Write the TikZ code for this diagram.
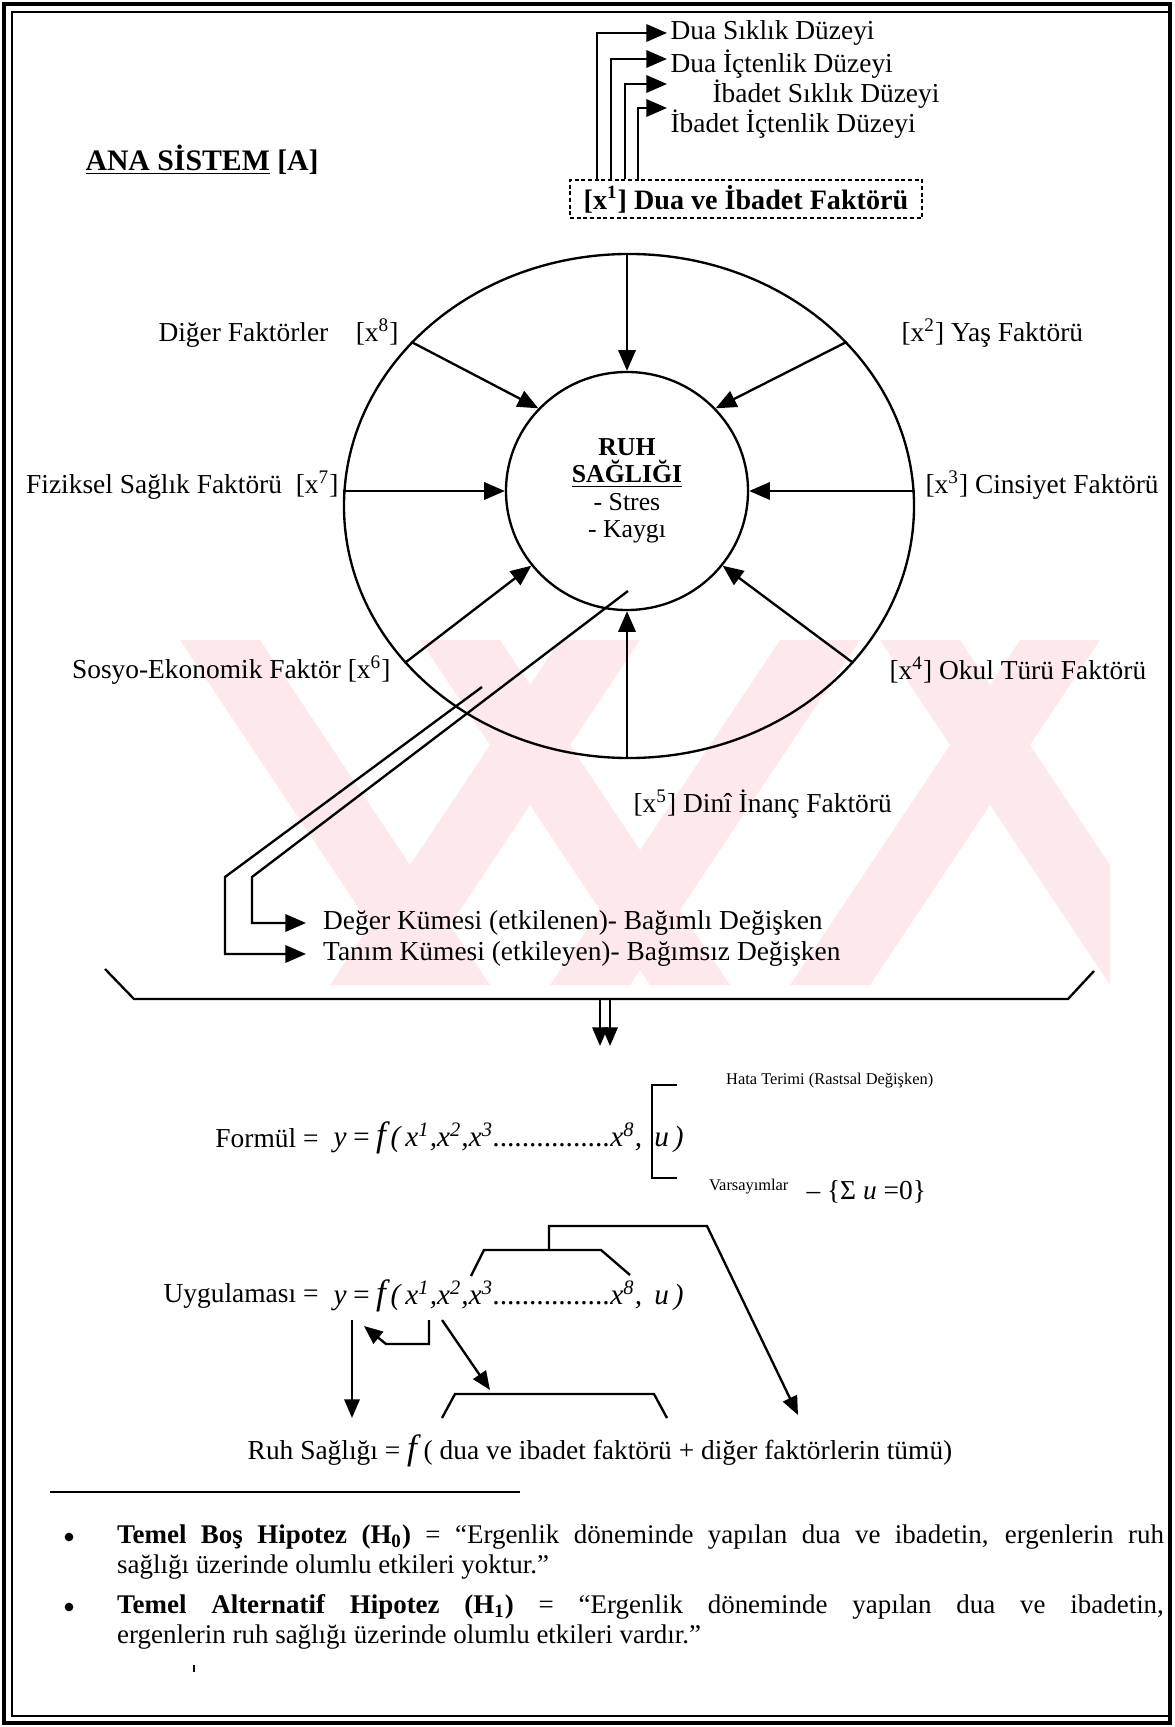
\documentclass[tikz,border=0pt]{standalone}
\usepackage{fontspec}
\setmainfont{Liberation Serif}
\usepackage{tikz}
\usetikzlibrary{
  arrows.meta,
  calc,
  positioning,
  shapes.geometric
}
\definecolor{yokpembe}{RGB}{253,233,236}
\tikzset{>={Triangle[length=3.1mm,width=2.6mm]}}
\tikzset{
  lbl/.style={inner sep=1pt,font=\fontsize{11.7}{14}\selectfont},
  minik/.style={inner sep=0pt,font=\fontsize{7}{8}\selectfont},
  kucukok/.style={>={Triangle[length=2.8mm,width=2.3mm]}},
  filigran/.style={fill=yokpembe,draw=none},
  madde/.style={circle,fill,inner sep=0pt,minimum size=1.3mm},
  hipotez/.style={inner sep=0pt,text width=157mm,align=justify,font=\fontsize{11.5}{13.1}\selectfont}
}
\newcommand{\yfonk}{{\fontsize{12.5}{15}\selectfont\itshape y\,=\,{\fontsize{15}{15}\selectfont f}\,(\,x\textsuperscript{1},x\textsuperscript{2},x\textsuperscript{3}................x\textsuperscript{8}, \,u\,)}}

\begin{document}
\begin{tikzpicture}[x=0.15mm,y=-0.15mm,line width=1pt]
	\useasboundingbox (0,0) rectangle (1174,1727);
	\begin{scope}
		\clip (180,640) rectangle (1110,985);
		\foreach \a in {180,420,880}
			\fill[filigran] (\a,640) -- ++(80,0) -- ++(230,345) -- ++(-80,0) -- cycle;
		\foreach \a in {560,780,1020}
			\fill[filigran] (\a,640) -- ++(80,0) -- ++(-230,345) -- ++(-80,0) -- cycle;
	\end{scope}
	\draw[line width=1.8pt] (4,4) rectangle (1170,1723);
	\draw[line width=0.6pt] (1170,12) -- (12,12) -- (12,1716) -- (1170,1716);

	\node[lbl,anchor=west,font=\fontsize{12.7}{14}\selectfont] (baslik) at (82,160) {\textbf{\underline{ANA SİSTEM} [A]}};

	\node[draw,dashed,line width=0.8pt,dash pattern=on 0.6mm off 0.4mm,minimum width=52.8mm,minimum height=5.7mm,inner sep=0pt,font=\fontsize{12}{14}\selectfont\bfseries] (faktor1) at (746,199) {[x\textsuperscript{1}] Dua ve İbadet Faktörü};
	\node[lbl,anchor=west] (dua1) at (667,33) {Dua Sıklık Düzeyi};
	\node[lbl,anchor=west] (dua2) at (667,64) {Dua İçtenlik Düzeyi};
	\node[lbl,anchor=west] (ibd1) at (667,94) {\hspace{6.3mm}İbadet Sıklık Düzeyi};
	\node[lbl,anchor=west] (ibd2) at (667,124) {İbadet İçtenlik Düzeyi};
	\draw[->] ($(faktor1.north west)+(28,0)$) |- (dua1.west);
	\draw[->] ($(faktor1.north west)+(42,0)$) |- ($(dua2.west)+(0,-5)$);
	\draw[->] ($(faktor1.north west)+(56,0)$) |- ($(ibd1.west)+(0,-10)$);
	\draw[->] ($(faktor1.north west)+(69,0)$) |- ($(ibd2.west)+(0,-16)$);

	\node[draw,ellipse,minimum width=85.5mm,minimum height=75.6mm] (dis) at (629,506) {};
	\node[draw,ellipse,minimum width=36.3mm,minimum height=35.7mm,align=center,font=\fontsize{11}{11.7}\selectfont] (ruh) at (627,491) {\textbf{RUH}\\\textbf{\underline{SAĞLIĞI}}\\- Stres\\- Kaygı};

	\node[lbl,anchor=east] (x8) at (402,333) {Diğer Faktörler\quad[x\textsuperscript{8}]};
	\node[lbl,anchor=west] (x2) at (898,333) {[x\textsuperscript{2}] Yaş Faktörü};
	\node[lbl,anchor=east] (x7) at (342,485) {Fiziksel Sağlık Faktörü\enspace[x\textsuperscript{7}]};
	\node[lbl,anchor=west] (x3) at (922,485) {[x\textsuperscript{3}] Cinsiyet Faktörü};
	\node[lbl,anchor=east] (x6) at (394,670) {Sosyo-Ekonomik Faktör [x\textsuperscript{6}]};
	\node[lbl,anchor=west] (x4) at (886,670) {[x\textsuperscript{4}] Okul Türü Faktörü};
	\node[lbl,anchor=west] (x5) at (630,804) {[x\textsuperscript{5}] Dinî İnanç Faktörü};

	\draw[->] (dis.north -| ruh.north) -- (ruh.north);
	\draw[->] (dis.143) -- (ruh.137);
	\draw[->] (dis.37) -- (ruh.43);
	\draw[->] (dis.west |- ruh.west) -- (ruh.west);
	\draw[->] (dis.east |- ruh.east) -- (ruh.east);
	\draw[->] (dis.215) -- (ruh.218);
	\draw[->] (dis.325) -- (ruh.322);
	\draw[->] (dis.south -| ruh.south) -- (ruh.south);

	\coordinate (ka) at (628,591);
	\coordinate (kb) at (482,687);
	\node[lbl,anchor=west,inner xsep=2.4mm] (deger) at (306,923) {Değer Kümesi (etkilenen)- Bağımlı Değişken};
	\node[lbl,anchor=west,inner xsep=2.4mm] (tanim) at (306,954) {Tanım Kümesi (etkileyen)- Bağımsız Değişken};
	\draw[->] (ka) -- ++(-376,286) |- (deger.west);
	\draw[->] (kb) -- ++(-257,190) |- (tanim.west);

	\draw (105,969) -- (134,999) -- (1068,999) -- (1094,971);
	\coordinate (ok1) at (600,999);
	\coordinate (ok2) at (610,999);
	\draw[->,kucukok] (ok1) -- ++(0,47);
	\draw[->,kucukok] (ok2) -- ++(0,47);

	\node[lbl,anchor=east] (formul) at (322,1138) {Formül =};
	\node[lbl,anchor=west] (fx) at (330,1138) {\yfonk};
	\draw (677,1085) -- (652,1085) -- (652,1178) -- (677,1178);
	\node[minik,anchor=west] (hata) at (725,1081) {Hata Terimi (Rastsal Değişken)};
	\node[minik,anchor=west] (vars) at (708,1187) {Varsayımlar};
	\node[lbl,anchor=west] (sigma) at (803,1192) {– \{Σ \textit{u} =0\}};

	\node[lbl,anchor=east] (uyg) at (322,1296) {Uygulaması =};
	\node[lbl,anchor=west] (ux) at (330,1296) {\yfonk};
	\node[lbl] (ruhf) at (600,1451) {Ruh Sağlığı = {\fontsize{15}{15}\selectfont\itshape f} ( dua ve ibadet faktörü + diğer faktörlerin tümü)};

	\draw[->,kucukok] (352,1320) -- (352,1418);
	\draw[->,kucukok] (429,1320) -- (429,1344) -- (386,1344) -- (364,1326);
	\draw[->,kucukok] (442,1320) -- (490,1390);
	\draw (442,1418) -- (455,1394) -- (654,1394) -- (667,1418);
	\draw (471,1276) -- (484,1250) -- (601,1250) -- (630,1275);
	\draw[->,kucukok] (549,1250) -- (549,1226) -- (707,1226) -- (798,1415);

	\draw[line width=0.8pt] (50,1492) -- (520,1492);
	\node[madde] (b1) at (69,1537) {};
	\node[madde] (b2) at (69,1607) {};
	\node[hipotez,anchor=west] (h0) at (116,1552) {\makebox[157mm][s]{\textbf{Temel Boş Hipotez (H\textsubscript{0})} = “Ergenlik döneminde yapılan dua ve ibadetin, ergenlerin ruh}\\sağlığı üzerinde olumlu etkileri yoktur.”};
	\node[hipotez,anchor=west] (h1) at (116,1622) {\makebox[157mm][s]{\textbf{Temel Alternatif Hipotez (H\textsubscript{1})} = “Ergenlik döneminde yapılan dua ve ibadetin,}\\ergenlerin ruh sağlığı üzerinde olumlu etkileri vardır.”};
	\fill (193,1665) rectangle (195,1672);
\end{tikzpicture}
\end{document}
